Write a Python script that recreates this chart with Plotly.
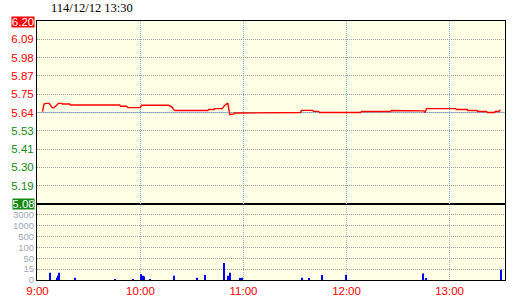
import numpy as np
import plotly.graph_objects as go

title_text = "114/12/12 13:30"
prev_close = 5.64
price_low, price_high = 5.08, 6.20

# minutes after 9:00 and price
price_min = [2.9, 3.8, 5.2, 6.8, 8.7, 9.5, 11.1, 12.2, 14.0, 14.6, 18.8, 19.2,
             47.9, 48.4, 51.8, 52.8, 60.0, 60.6, 76.5, 77.5, 78.5, 79.2, 79.8,
             99.2, 99.6, 102.8, 103.1, 107.6, 108.9, 110.5, 110.9, 112.0, 113.4,
             114.4, 114.8, 117.1, 117.8, 153.2, 153.8, 160.2, 160.8, 163.7, 164.3,
             188.2, 188.7, 205.6, 206.2, 225.1, 225.7, 226.6, 243.5, 244.1, 250.3,
             250.7, 256.1, 256.5, 261.6, 262.0, 266.2, 266.6, 268.7, 269.1, 269.7]
price_val = [5.646, 5.692, 5.696, 5.696, 5.668, 5.668, 5.684, 5.696, 5.696, 5.692, 5.692, 5.686,
             5.686, 5.678, 5.678, 5.670, 5.670, 5.684, 5.684, 5.678, 5.672, 5.661, 5.652,
             5.652, 5.658, 5.658, 5.664, 5.664, 5.682, 5.696, 5.696, 5.627, 5.631,
             5.631, 5.637, 5.637, 5.640, 5.640, 5.653, 5.653, 5.647, 5.647, 5.640,
             5.640, 5.646, 5.646, 5.652, 5.650, 5.639, 5.664, 5.664, 5.658, 5.658,
             5.652, 5.652, 5.646, 5.646, 5.640, 5.640, 5.646, 5.646, 5.652, 5.652]

vol_min = [7.2, 11.1, 11.8, 12.4, 21.6, 45.4, 55.7, 60.2, 61.2, 62.3, 65.4, 79.8,
           92.8, 93.2, 97.5, 108.5, 110.9, 112.0, 117.8, 119.0, 154.0, 158.0,
           165.6, 179.6, 224.4, 226.2, 269.9]
vol_val = [10, 3, 6, 10, 3, 1, 1, 8, 6, 5, 1, 6,
           2, 3, 7, 35, 6, 10, 2, 3, 3, 2,
           7, 7, 9, 2, 14]

time_ticks = [0, 60, 120, 180, 240]
time_labels = ["9:00", "10:00", "11:00", "12:00", "13:00"]
price_labels = ["6.20", "6.09", "5.98", "5.87", "5.75", "5.64", "5.53", "5.41", "5.30", "5.19", "5.08"]
vol_levels = [0, 15, 50, 100, 500, 1000, 3000]
vol_labels = ["0", "15", "50", "100", "500", "1000", "3000"]

# volume axis: each labelled level occupies one equal step
vol_idx = np.interp(vol_val, vol_levels, np.arange(len(vol_levels)))

price_ticks = np.linspace(price_high, price_low, len(price_labels))
RED, GREEN = "#FF0000", "#148A14"
pt_text = []
for i, (v, lab) in enumerate(zip(price_ticks, price_labels)):
    if i == 0 or i == len(price_labels) - 1:
        pt_text.append("")
        continue
    c = RED if v >= prev_close - 1e-9 else GREEN
    pt_text.append(f"<span style='color:{c}'>{lab}</span>")

W, H = 520, 300
L, R, T, B = 37, 15, 21, 20
pw = W - L - R
ph = H - T - B
dv = 76 / ph
span = 272.6
half_px = 0.5 * span / pw
x_range = [-half_px, span - half_px]

font_lab = "Liberation Sans, Arial"
FS = 11

fig = go.Figure()
fig.add_trace(go.Scatter(x=price_min, y=price_val, mode="lines",
                         line=dict(color="#FF0000", width=1.4),
                         xaxis="x2", yaxis="y", hoverinfo="skip"))
fig.add_trace(go.Bar(x=vol_min, y=vol_idx, width=0.62,
                     marker=dict(color="#0000FF", line=dict(width=0)),
                     xaxis="x", yaxis="y2", hoverinfo="skip"))

axis_common = dict(showline=True, mirror=True, linecolor="black", linewidth=1,
                   zeroline=False, automargin=False)
fig.update_layout(
    width=W, height=H,
    margin=dict(l=L, r=R, t=T, b=B, pad=0, autoexpand=False),
    paper_bgcolor="white", plot_bgcolor="#FFFFE6",
    showlegend=False,
    xaxis=dict(domain=[0, 1], anchor="y2", range=x_range,
               tickvals=time_ticks, ticktext=time_labels, ticks="",
               tickfont=dict(family=font_lab, size=FS + 0.5, color="#FF0000"),
               showgrid=True, gridcolor="#9FB9CC", griddash="1px,1px", gridwidth=1,
               **axis_common),
    xaxis2=dict(domain=[0, 1], anchor="y", matches="x", showticklabels=False,
                tickvals=time_ticks, ticks="",
                showgrid=True, gridcolor="#6FB2E6", griddash="1px,1px", gridwidth=1,
                **axis_common),
    yaxis=dict(domain=[dv, 1], anchor="x2", range=[price_low, price_high],
               tickvals=list(price_ticks), ticktext=pt_text, ticks="",
               tickfont=dict(family=font_lab, size=FS + 0.5),
               showgrid=True, gridcolor="#9C9C9C", griddash="1px,1px", gridwidth=1,
               **axis_common),
    yaxis2=dict(domain=[0, dv], anchor="x", range=[0, len(vol_levels)],
                tickvals=list(range(len(vol_levels))), ticktext=vol_labels, ticks="",
                tickfont=dict(family=font_lab, size=9.5, color="#A0AAB4"),
                showgrid=True, gridcolor="#9C9C9C", griddash="1px,1px", gridwidth=1,
                **axis_common),
    shapes=[
        dict(type="line", xref="paper", yref="y", x0=0, x1=1, y0=prev_close, y1=prev_close,
             line=dict(color="#8CC6EA", width=1), layer="between"),
    ],
    annotations=[
        dict(text=title_text, xref="paper", yref="paper",
             x=(49 - L) / pw, y=(H - B - 8) / ph, xanchor="left", yanchor="middle",
             showarrow=False, font=dict(family="Liberation Serif, Times New Roman, serif",
                                         size=12.5, color="black")),
        dict(text=price_labels[0], xref="paper", yref="y", x=0, y=price_high,
             xanchor="right", yanchor="middle", xshift=-2, yshift=-1, showarrow=False,
             width=22, height=10, borderpad=0, bgcolor="#FF0000",
             font=dict(family=font_lab, size=FS + 0.5, color="white")),
        dict(text=price_labels[-1], xref="paper", yref="y", x=0, y=price_low,
             xanchor="right", yanchor="middle", xshift=-2, showarrow=False,
             width=21, height=10, borderpad=0, bgcolor=GREEN,
             font=dict(family=font_lab, size=FS + 0.5, color="white")),
    ],
)

fig.write_html("out.html")
